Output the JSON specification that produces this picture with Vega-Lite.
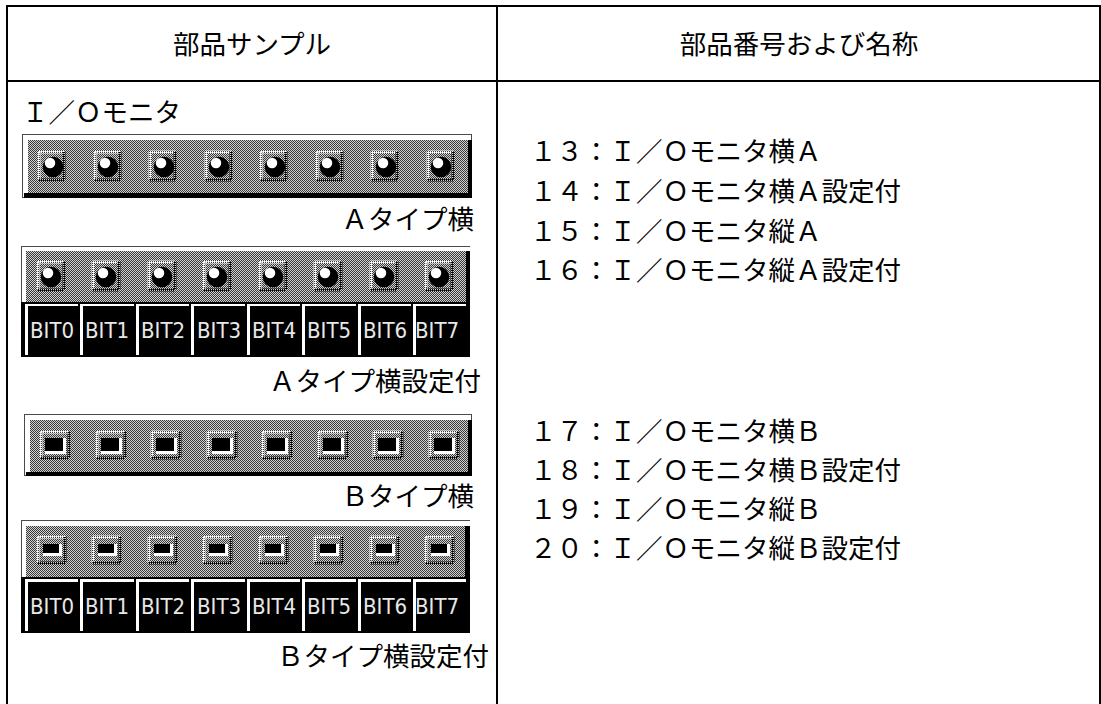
{"$schema":"https://vega.github.io/schema/vega-lite/v6.json","width":1101,"height":704,"padding":0,"autosize":"none","background":"white","config":{"view":{"stroke":null}},
"datasets":{
"blocks":[
{"part":"line","x0":6,"x1":1101,"y0":5,"y1":7},{"part":"line","x0":6,"x1":8,"y0":5,"y1":704},{"part":"line","x0":1099,"x1":1101,"y0":5,"y1":704},{"part":"line","x0":6,"x1":1101,"y0":80,"y1":82},{"part":"line","x0":496,"x1":498,"y0":5,"y1":704},
{"part":"edge","x0":22,"x1":472,"y0":134,"y1":198},{"part":"white","x0":23,"x1":471,"y0":135,"y1":197},{"part":"black","x0":24,"x1":472,"y0":193,"y1":198},{"part":"black","x0":468,"x1":472,"y0":140,"y1":198},{"part":"base","x0":28,"x1":468,"y0":140,"y1":193},
{"part":"edge","x0":21,"x1":470,"y0":246,"y1":302},{"part":"white","x0":22,"x1":470,"y0":247,"y1":302},{"part":"black","x0":466,"x1":470,"y0":251,"y1":302},{"part":"base","x0":26,"x1":466,"y0":251,"y1":302},{"part":"black","x0":21,"x1":470,"y0":302,"y1":357},
{"part":"edge","x0":24,"x1":472,"y0":414,"y1":476},{"part":"white","x0":25,"x1":471,"y0":415,"y1":475},{"part":"black","x0":26,"x1":472,"y0":472,"y1":476},{"part":"black","x0":468,"x1":472,"y0":420,"y1":476},{"part":"base","x0":30,"x1":468,"y0":420,"y1":472},
{"part":"edge","x0":21,"x1":470,"y0":520,"y1":578},{"part":"white","x0":22,"x1":470,"y0":521,"y1":578},{"part":"black","x0":465,"x1":470,"y0":526,"y1":578},{"part":"base","x0":26,"x1":465,"y0":526,"y1":577},{"part":"black","x0":21,"x1":470,"y0":577,"y1":633},
{"part":"white","x0":25,"x1":78,"y0":304,"y1":306},{"part":"white","x0":80,"x1":134,"y0":304,"y1":306},{"part":"white","x0":136,"x1":189,"y0":304,"y1":306},{"part":"white","x0":191,"x1":245,"y0":304,"y1":306},{"part":"white","x0":247,"x1":300,"y0":304,"y1":306},{"part":"white","x0":302,"x1":356,"y0":304,"y1":306},{"part":"white","x0":358,"x1":411,"y0":304,"y1":306},{"part":"white","x0":413,"x1":466,"y0":304,"y1":306},
{"part":"white","x0":25,"x1":28,"y0":304,"y1":355},{"part":"white","x0":80,"x1":83,"y0":304,"y1":355},{"part":"white","x0":136,"x1":139,"y0":304,"y1":355},{"part":"white","x0":191,"x1":194,"y0":304,"y1":355},{"part":"white","x0":247,"x1":250,"y0":304,"y1":355},{"part":"white","x0":302,"x1":305,"y0":304,"y1":355},{"part":"white","x0":358,"x1":361,"y0":304,"y1":355},{"part":"white","x0":413,"x1":416,"y0":304,"y1":355},
{"part":"white","x0":25,"x1":78,"y0":579,"y1":582},{"part":"white","x0":80,"x1":134,"y0":579,"y1":582},{"part":"white","x0":136,"x1":189,"y0":579,"y1":582},{"part":"white","x0":191,"x1":245,"y0":579,"y1":582},{"part":"white","x0":247,"x1":300,"y0":579,"y1":582},{"part":"white","x0":302,"x1":356,"y0":579,"y1":582},{"part":"white","x0":358,"x1":411,"y0":579,"y1":582},{"part":"white","x0":413,"x1":466,"y0":579,"y1":582},
{"part":"white","x0":25,"x1":28,"y0":579,"y1":631},{"part":"white","x0":80,"x1":83,"y0":579,"y1":631},{"part":"white","x0":136,"x1":139,"y0":579,"y1":631},{"part":"white","x0":191,"x1":194,"y0":579,"y1":631},{"part":"white","x0":247,"x1":250,"y0":579,"y1":631},{"part":"white","x0":302,"x1":305,"y0":579,"y1":631},{"part":"white","x0":358,"x1":361,"y0":579,"y1":631},{"part":"white","x0":413,"x1":416,"y0":579,"y1":631}
],
"dither":[
{"x":28,"x2":468,"y":140.5},{"x":29,"x2":468,"y":141.5},{"x":28,"x2":468,"y":142.5},{"x":29,"x2":468,"y":143.5},{"x":28,"x2":468,"y":144.5},{"x":29,"x2":468,"y":145.5},{"x":28,"x2":468,"y":146.5},{"x":29,"x2":468,"y":147.5},{"x":28,"x2":468,"y":148.5},{"x":29,"x2":468,"y":149.5},{"x":28,"x2":468,"y":150.5},{"x":29,"x2":468,"y":151.5},{"x":28,"x2":468,"y":152.5},{"x":29,"x2":468,"y":153.5},{"x":28,"x2":468,"y":154.5},{"x":29,"x2":468,"y":155.5},{"x":28,"x2":468,"y":156.5},{"x":29,"x2":468,"y":157.5},{"x":28,"x2":468,"y":158.5},{"x":29,"x2":468,"y":159.5},{"x":28,"x2":468,"y":160.5},{"x":29,"x2":468,"y":161.5},{"x":28,"x2":468,"y":162.5},{"x":29,"x2":468,"y":163.5},{"x":28,"x2":468,"y":164.5},{"x":29,"x2":468,"y":165.5},{"x":28,"x2":468,"y":166.5},{"x":29,"x2":468,"y":167.5},{"x":28,"x2":468,"y":168.5},{"x":29,"x2":468,"y":169.5},{"x":28,"x2":468,"y":170.5},{"x":29,"x2":468,"y":171.5},{"x":28,"x2":468,"y":172.5},{"x":29,"x2":468,"y":173.5},{"x":28,"x2":468,"y":174.5},{"x":29,"x2":468,"y":175.5},{"x":28,"x2":468,"y":176.5},{"x":29,"x2":468,"y":177.5},{"x":28,"x2":468,"y":178.5},{"x":29,"x2":468,"y":179.5},{"x":28,"x2":468,"y":180.5},{"x":29,"x2":468,"y":181.5},{"x":28,"x2":468,"y":182.5},{"x":29,"x2":468,"y":183.5},{"x":28,"x2":468,"y":184.5},{"x":29,"x2":468,"y":185.5},{"x":28,"x2":468,"y":186.5},{"x":29,"x2":468,"y":187.5},{"x":28,"x2":468,"y":188.5},{"x":29,"x2":468,"y":189.5},{"x":28,"x2":468,"y":190.5},{"x":29,"x2":468,"y":191.5},{"x":28,"x2":468,"y":192.5},
{"x":26,"x2":466,"y":251.5},{"x":27,"x2":466,"y":252.5},{"x":26,"x2":466,"y":253.5},{"x":27,"x2":466,"y":254.5},{"x":26,"x2":466,"y":255.5},{"x":27,"x2":466,"y":256.5},{"x":26,"x2":466,"y":257.5},{"x":27,"x2":466,"y":258.5},{"x":26,"x2":466,"y":259.5},{"x":27,"x2":466,"y":260.5},{"x":26,"x2":466,"y":261.5},{"x":27,"x2":466,"y":262.5},{"x":26,"x2":466,"y":263.5},{"x":27,"x2":466,"y":264.5},{"x":26,"x2":466,"y":265.5},{"x":27,"x2":466,"y":266.5},{"x":26,"x2":466,"y":267.5},{"x":27,"x2":466,"y":268.5},{"x":26,"x2":466,"y":269.5},{"x":27,"x2":466,"y":270.5},{"x":26,"x2":466,"y":271.5},{"x":27,"x2":466,"y":272.5},{"x":26,"x2":466,"y":273.5},{"x":27,"x2":466,"y":274.5},{"x":26,"x2":466,"y":275.5},{"x":27,"x2":466,"y":276.5},{"x":26,"x2":466,"y":277.5},{"x":27,"x2":466,"y":278.5},{"x":26,"x2":466,"y":279.5},{"x":27,"x2":466,"y":280.5},{"x":26,"x2":466,"y":281.5},{"x":27,"x2":466,"y":282.5},{"x":26,"x2":466,"y":283.5},{"x":27,"x2":466,"y":284.5},{"x":26,"x2":466,"y":285.5},{"x":27,"x2":466,"y":286.5},{"x":26,"x2":466,"y":287.5},{"x":27,"x2":466,"y":288.5},{"x":26,"x2":466,"y":289.5},{"x":27,"x2":466,"y":290.5},{"x":26,"x2":466,"y":291.5},{"x":27,"x2":466,"y":292.5},{"x":26,"x2":466,"y":293.5},{"x":27,"x2":466,"y":294.5},{"x":26,"x2":466,"y":295.5},{"x":27,"x2":466,"y":296.5},{"x":26,"x2":466,"y":297.5},{"x":27,"x2":466,"y":298.5},{"x":26,"x2":466,"y":299.5},{"x":27,"x2":466,"y":300.5},{"x":26,"x2":466,"y":301.5},
{"x":30,"x2":468,"y":420.5},{"x":31,"x2":468,"y":421.5},{"x":30,"x2":468,"y":422.5},{"x":31,"x2":468,"y":423.5},{"x":30,"x2":468,"y":424.5},{"x":31,"x2":468,"y":425.5},{"x":30,"x2":468,"y":426.5},{"x":31,"x2":468,"y":427.5},{"x":30,"x2":468,"y":428.5},{"x":31,"x2":468,"y":429.5},{"x":30,"x2":468,"y":430.5},{"x":31,"x2":468,"y":431.5},{"x":30,"x2":468,"y":432.5},{"x":31,"x2":468,"y":433.5},{"x":30,"x2":468,"y":434.5},{"x":31,"x2":468,"y":435.5},{"x":30,"x2":468,"y":436.5},{"x":31,"x2":468,"y":437.5},{"x":30,"x2":468,"y":438.5},{"x":31,"x2":468,"y":439.5},{"x":30,"x2":468,"y":440.5},{"x":31,"x2":468,"y":441.5},{"x":30,"x2":468,"y":442.5},{"x":31,"x2":468,"y":443.5},{"x":30,"x2":468,"y":444.5},{"x":31,"x2":468,"y":445.5},{"x":30,"x2":468,"y":446.5},{"x":31,"x2":468,"y":447.5},{"x":30,"x2":468,"y":448.5},{"x":31,"x2":468,"y":449.5},{"x":30,"x2":468,"y":450.5},{"x":31,"x2":468,"y":451.5},{"x":30,"x2":468,"y":452.5},{"x":31,"x2":468,"y":453.5},{"x":30,"x2":468,"y":454.5},{"x":31,"x2":468,"y":455.5},{"x":30,"x2":468,"y":456.5},{"x":31,"x2":468,"y":457.5},{"x":30,"x2":468,"y":458.5},{"x":31,"x2":468,"y":459.5},{"x":30,"x2":468,"y":460.5},{"x":31,"x2":468,"y":461.5},{"x":30,"x2":468,"y":462.5},{"x":31,"x2":468,"y":463.5},{"x":30,"x2":468,"y":464.5},{"x":31,"x2":468,"y":465.5},{"x":30,"x2":468,"y":466.5},{"x":31,"x2":468,"y":467.5},{"x":30,"x2":468,"y":468.5},{"x":31,"x2":468,"y":469.5},{"x":30,"x2":468,"y":470.5},{"x":31,"x2":468,"y":471.5},
{"x":26,"x2":465,"y":526.5},{"x":27,"x2":465,"y":527.5},{"x":26,"x2":465,"y":528.5},{"x":27,"x2":465,"y":529.5},{"x":26,"x2":465,"y":530.5},{"x":27,"x2":465,"y":531.5},{"x":26,"x2":465,"y":532.5},{"x":27,"x2":465,"y":533.5},{"x":26,"x2":465,"y":534.5},{"x":27,"x2":465,"y":535.5},{"x":26,"x2":465,"y":536.5},{"x":27,"x2":465,"y":537.5},{"x":26,"x2":465,"y":538.5},{"x":27,"x2":465,"y":539.5},{"x":26,"x2":465,"y":540.5},{"x":27,"x2":465,"y":541.5},{"x":26,"x2":465,"y":542.5},{"x":27,"x2":465,"y":543.5},{"x":26,"x2":465,"y":544.5},{"x":27,"x2":465,"y":545.5},{"x":26,"x2":465,"y":546.5},{"x":27,"x2":465,"y":547.5},{"x":26,"x2":465,"y":548.5},{"x":27,"x2":465,"y":549.5},{"x":26,"x2":465,"y":550.5},{"x":27,"x2":465,"y":551.5},{"x":26,"x2":465,"y":552.5},{"x":27,"x2":465,"y":553.5},{"x":26,"x2":465,"y":554.5},{"x":27,"x2":465,"y":555.5},{"x":26,"x2":465,"y":556.5},{"x":27,"x2":465,"y":557.5},{"x":26,"x2":465,"y":558.5},{"x":27,"x2":465,"y":559.5},{"x":26,"x2":465,"y":560.5},{"x":27,"x2":465,"y":561.5},{"x":26,"x2":465,"y":562.5},{"x":27,"x2":465,"y":563.5},{"x":26,"x2":465,"y":564.5},{"x":27,"x2":465,"y":565.5},{"x":26,"x2":465,"y":566.5},{"x":27,"x2":465,"y":567.5},{"x":26,"x2":465,"y":568.5},{"x":27,"x2":465,"y":569.5},{"x":26,"x2":465,"y":570.5},{"x":27,"x2":465,"y":571.5},{"x":26,"x2":465,"y":572.5},{"x":27,"x2":465,"y":573.5},{"x":26,"x2":465,"y":574.5},{"x":27,"x2":465,"y":575.5},{"x":26,"x2":465,"y":576.5}
],
"lamps":[
{"x0":39,"x1":64,"y0":152,"y1":180},{"x0":95,"x1":120,"y0":152,"y1":180},{"x0":150,"x1":175,"y0":152,"y1":180},{"x0":206,"x1":231,"y0":152,"y1":180},{"x0":261,"x1":286,"y0":152,"y1":180},{"x0":317,"x1":342,"y0":152,"y1":180},{"x0":372,"x1":397,"y0":152,"y1":180},{"x0":428,"x1":453,"y0":152,"y1":180},
{"x0":38,"x1":64,"y0":262,"y1":290},{"x0":93,"x1":119,"y0":262,"y1":290},{"x0":149,"x1":175,"y0":262,"y1":290},{"x0":204,"x1":230,"y0":262,"y1":290},{"x0":260,"x1":286,"y0":262,"y1":290},{"x0":315,"x1":341,"y0":262,"y1":290},{"x0":371,"x1":397,"y0":262,"y1":290},{"x0":426,"x1":452,"y0":262,"y1":290},
{"x0":41,"x1":69,"y0":432,"y1":458},{"x0":97,"x1":125,"y0":432,"y1":458},{"x0":152,"x1":180,"y0":432,"y1":458},{"x0":208,"x1":236,"y0":432,"y1":458},{"x0":263,"x1":291,"y0":432,"y1":458},{"x0":319,"x1":347,"y0":432,"y1":458},{"x0":374,"x1":402,"y0":432,"y1":458},{"x0":430,"x1":458,"y0":432,"y1":458},
{"x0":38,"x1":65,"y0":537,"y1":563},{"x0":93,"x1":120,"y0":537,"y1":563},{"x0":149,"x1":176,"y0":537,"y1":563},{"x0":204,"x1":231,"y0":537,"y1":563},{"x0":260,"x1":287,"y0":537,"y1":563},{"x0":315,"x1":342,"y0":537,"y1":563},{"x0":371,"x1":398,"y0":537,"y1":563},{"x0":426,"x1":453,"y0":537,"y1":563}
],
"bulbs":[
{"x":53,"y":167},{"x":108,"y":167},{"x":164,"y":167},{"x":219,"y":167},{"x":275,"y":167},{"x":330,"y":167},{"x":386,"y":167},{"x":441,"y":167},
{"x":51,"y":277},{"x":106,"y":277},{"x":162,"y":277},{"x":217,"y":277},{"x":273,"y":277},{"x":328,"y":277},{"x":384,"y":277},{"x":439,"y":277}
],
"windows":[
{"part":"white","x0":45,"x1":66,"y0":438,"y1":454},{"part":"white","x0":101,"x1":122,"y0":438,"y1":454},{"part":"white","x0":156,"x1":177,"y0":438,"y1":454},{"part":"white","x0":212,"x1":233,"y0":438,"y1":454},{"part":"white","x0":267,"x1":288,"y0":438,"y1":454},{"part":"white","x0":323,"x1":344,"y0":438,"y1":454},{"part":"white","x0":378,"x1":399,"y0":438,"y1":454},{"part":"white","x0":434,"x1":455,"y0":438,"y1":454},
{"part":"black","x0":45,"x1":63,"y0":438,"y1":451},{"part":"black","x0":101,"x1":119,"y0":438,"y1":451},{"part":"black","x0":156,"x1":174,"y0":438,"y1":451},{"part":"black","x0":212,"x1":230,"y0":438,"y1":451},{"part":"black","x0":267,"x1":285,"y0":438,"y1":451},{"part":"black","x0":323,"x1":341,"y0":438,"y1":451},{"part":"black","x0":378,"x1":396,"y0":438,"y1":451},{"part":"black","x0":434,"x1":452,"y0":438,"y1":451},
{"part":"white","x0":43,"x1":62,"y0":544,"y1":556},{"part":"white","x0":98,"x1":117,"y0":544,"y1":556},{"part":"white","x0":154,"x1":173,"y0":544,"y1":556},{"part":"white","x0":209,"x1":228,"y0":544,"y1":556},{"part":"white","x0":265,"x1":284,"y0":544,"y1":556},{"part":"white","x0":320,"x1":339,"y0":544,"y1":556},{"part":"white","x0":376,"x1":395,"y0":544,"y1":556},{"part":"white","x0":431,"x1":450,"y0":544,"y1":556},
{"part":"black","x0":43,"x1":59,"y0":544,"y1":553},{"part":"black","x0":98,"x1":114,"y0":544,"y1":553},{"part":"black","x0":154,"x1":170,"y0":544,"y1":553},{"part":"black","x0":209,"x1":225,"y0":544,"y1":553},{"part":"black","x0":265,"x1":281,"y0":544,"y1":553},{"part":"black","x0":320,"x1":336,"y0":544,"y1":553},{"part":"black","x0":376,"x1":392,"y0":544,"y1":553},{"part":"black","x0":431,"x1":447,"y0":544,"y1":553}
],
"bits":[
{"t":"BIT0","x":30,"y":338},{"t":"BIT1","x":85,"y":338},{"t":"BIT2","x":141,"y":338},{"t":"BIT3","x":197,"y":338},{"t":"BIT4","x":252,"y":338},{"t":"BIT5","x":307,"y":338},{"t":"BIT6","x":363,"y":338},{"t":"BIT7","x":415,"y":338},
{"t":"BIT0","x":30,"y":614},{"t":"BIT1","x":85,"y":614},{"t":"BIT2","x":141,"y":614},{"t":"BIT3","x":197,"y":614},{"t":"BIT4","x":252,"y":614},{"t":"BIT5","x":307,"y":614},{"t":"BIT6","x":363,"y":614},{"t":"BIT7","x":415,"y":614}
],
"heads":[{"t":"部品サンプル","x":252,"y":46},{"t":"部品番号および名称","x":799,"y":46}],
"lefts":[{"t":"Ｉ／Ｏモニタ","x":22,"y":114},
{"t":"１３：Ｉ／Ｏモニタ横Ａ","x":530,"y":153},{"t":"１４：Ｉ／Ｏモニタ横Ａ設定付","x":530,"y":193},{"t":"１５：Ｉ／Ｏモニタ縦Ａ","x":530,"y":233},{"t":"１６：Ｉ／Ｏモニタ縦Ａ設定付","x":530,"y":272},
{"t":"１７：Ｉ／Ｏモニタ横Ｂ","x":530,"y":433},{"t":"１８：Ｉ／Ｏモニタ横Ｂ設定付","x":530,"y":472},{"t":"１９：Ｉ／Ｏモニタ縦Ｂ","x":530,"y":511},{"t":"２０：Ｉ／Ｏモニタ縦Ｂ設定付","x":530,"y":550}],
"rights":[{"t":"Ａタイプ横","x":474,"y":221},{"t":"Ａタイプ横設定付","x":481,"y":383},{"t":"Ｂタイプ横","x":474,"y":498},{"t":"Ｂタイプ横設定付","x":489,"y":658}]
},
"layer":[
{"data":{"name":"blocks"},"mark":{"type":"rect"},"encoding":{"x":{"field":"x0","type":"quantitative","axis":null,"scale":{"domain":[0,1101],"nice":false,"zero":false}},"x2":{"field":"x1"},"y":{"field":"y0","type":"quantitative","axis":null,"scale":{"domain":[0,704],"reverse":true,"nice":false,"zero":false}},"y2":{"field":"y1"},"color":{"field":"part","type":"nominal","legend":null,"scale":{"domain":["line","edge","white","black","base"],"range":["#000000","#4a4a4a","#ffffff","#000000","#d2d2d2"]}}}},
{"data":{"name":"dither"},"mark":{"type":"rule","stroke":"#383838","strokeWidth":1,"strokeDash":[1,1]},"encoding":{"x":{"field":"x","type":"quantitative"},"x2":{"field":"x2"},"y":{"field":"y","type":"quantitative"}}},
{"data":{"name":"lamps"},"mark":{"type":"rule","stroke":"#ffffff","strokeWidth":3,"strokeDash":[1,1]},"encoding":{"x":{"field":"x0","type":"quantitative"},"x2":{"field":"x1"},"y":{"field":"y0","type":"quantitative"}}},
{"data":{"name":"lamps"},"mark":{"type":"rule","stroke":"#ffffff","strokeWidth":3,"strokeDash":[1,1]},"encoding":{"y":{"field":"y0","type":"quantitative"},"y2":{"field":"y1"},"x":{"field":"x0","type":"quantitative"}}},
{"data":{"name":"lamps"},"mark":{"type":"rule","stroke":"#000000","strokeWidth":3,"strokeDash":[1,1]},"encoding":{"x":{"field":"x0","type":"quantitative"},"x2":{"field":"x1"},"y":{"field":"y1","type":"quantitative"}}},
{"data":{"name":"lamps"},"mark":{"type":"rule","stroke":"#000000","strokeWidth":3,"strokeDash":[1,1]},"encoding":{"y":{"field":"y0","type":"quantitative"},"y2":{"field":"y1"},"x":{"field":"x1","type":"quantitative"}}},
{"data":{"name":"windows"},"mark":{"type":"rect"},"encoding":{"x":{"field":"x0","type":"quantitative"},"x2":{"field":"x1"},"y":{"field":"y0","type":"quantitative"},"y2":{"field":"y1"},"color":{"field":"part","type":"nominal","legend":null}}},
{"data":{"name":"bulbs"},"mark":{"type":"point","shape":"circle","filled":true,"fill":"#000000","opacity":1,"size":420,"stroke":null},"encoding":{"x":{"field":"x","type":"quantitative"},"y":{"field":"y","type":"quantitative"}}},
{"data":{"name":"bulbs"},"mark":{"type":"point","shape":"circle","filled":true,"fill":"#ffffff","opacity":1,"size":110,"stroke":null,"xOffset":-3,"yOffset":-4},"encoding":{"x":{"field":"x","type":"quantitative"},"y":{"field":"y","type":"quantitative"}}},
{"data":{"name":"bits"},"mark":{"type":"text","font":"DejaVu Sans Condensed","fontSize":22,"fill":"#e8e8e8","align":"left","baseline":"alphabetic"},"encoding":{"x":{"field":"x","type":"quantitative"},"y":{"field":"y","type":"quantitative"},"text":{"field":"t"}}},
{"data":{"name":"heads"},"mark":{"type":"text","font":"Noto Sans CJK JP","fontSize":26.5,"fill":"#000000","align":"center","baseline":"middle"},"encoding":{"x":{"field":"x","type":"quantitative"},"y":{"field":"y","type":"quantitative"},"text":{"field":"t"}}},
{"data":{"name":"lefts"},"mark":{"type":"text","font":"Noto Sans CJK JP","fontSize":26.5,"fill":"#000000","align":"left","baseline":"middle"},"encoding":{"x":{"field":"x","type":"quantitative"},"y":{"field":"y","type":"quantitative"},"text":{"field":"t"}}},
{"data":{"name":"rights"},"mark":{"type":"text","font":"Noto Sans CJK JP","fontSize":26.5,"fill":"#000000","align":"right","baseline":"middle"},"encoding":{"x":{"field":"x","type":"quantitative"},"y":{"field":"y","type":"quantitative"},"text":{"field":"t"}}}
]}
